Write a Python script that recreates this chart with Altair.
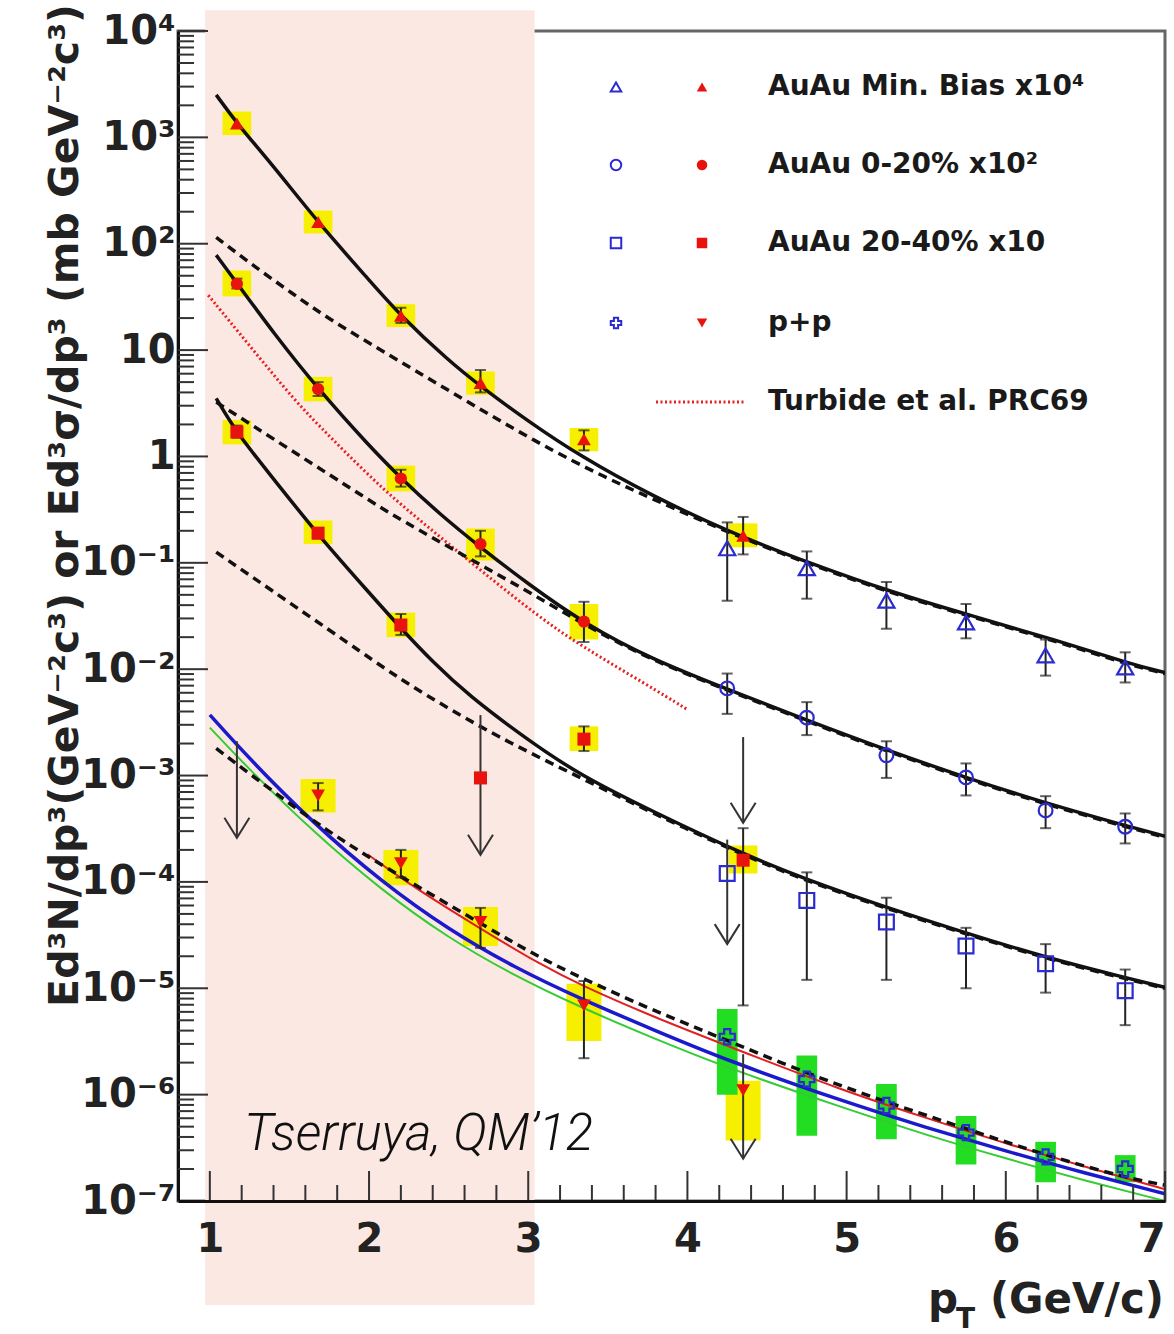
import altair as alt
import pandas as pd

# ---------------- values ----------------
# AuAu Min. Bias x10^4 : virtual-photon (red) and conversion (blue) points
mb_red_x = [1.17, 1.68, 2.2, 2.7, 3.35, 4.35]
mb_red_y = [1350, 160, 21, 4.9, 1.45, 0.18]
mb_red_sys_lo = [1050, 125, 16.5, 3.8, 1.12, 0.14]
mb_red_sys_hi = [1750, 205, 27, 6.3, 1.85, 0.235]
mb_red_err_x = [2.2, 2.7, 3.35, 4.35]
mb_red_err_lo = [18, 4.0, 1.14, 0.12]
mb_red_err_hi = [25, 6.5, 1.76, 0.27]

high_x = [4.25, 4.75, 5.25, 5.75, 6.25, 6.75]
mb_blue_y = [0.137, 0.089, 0.044, 0.0275, 0.0135, 0.0104]
mb_blue_lo = [0.044, 0.046, 0.024, 0.0195, 0.0087, 0.0075]
mb_blue_hi = [0.24, 0.128, 0.066, 0.041, 0.019, 0.0144]

# AuAu 0-20% x10^2
c0_red_x = [1.17, 1.68, 2.2, 2.7, 3.35]
c0_red_y = [42, 4.3, 0.62, 0.15, 0.028]
c0_red_err_lo = [38, 3.7, 0.52, 0.115, 0.018]
c0_red_err_hi = [47, 5.0, 0.75, 0.2, 0.043]
c0_red_sys_lo = [32, 3.3, 0.47, 0.105, 0.019]
c0_red_sys_hi = [56, 5.6, 0.82, 0.21, 0.041]
c0_blue_y = [0.0066, 0.0035, 0.00155, 0.00096, 0.00047, 0.00033]
c0_blue_lo = [0.0038, 0.0024, 0.00095, 0.00065, 0.00032, 0.00023]
c0_blue_hi = [0.0091, 0.0049, 0.0021, 0.0013, 0.00064, 0.00044]

# AuAu 20-40% x10
c2_red_x = [1.17, 1.68, 2.2, 2.7, 3.35, 4.35]
c2_red_y = [1.7, 0.19, 0.026, 0.00095, 0.0022, 0.00016]
c2_red_err_x = [1.17, 1.68, 2.2, 3.35, 4.35]
c2_red_err_lo = [1.5, 0.17, 0.021, 0.0017, 6.9e-6]
c2_red_err_hi = [1.95, 0.21, 0.033, 0.0029, 3.2e-4]
c2_red_sys_x = [1.17, 1.68, 2.2, 3.35, 4.35]
c2_red_sys_lo = [1.3, 0.15, 0.02, 0.0017, 0.00012]
c2_red_sys_hi = [2.2, 0.25, 0.034, 0.0029, 0.00022]
c2_blue_y = [0.00012, 6.7e-5, 4.2e-5, 2.5e-5, 1.7e-5, 9.5e-6]
c2_blue_err_x = [4.75, 5.25, 5.75, 6.25, 6.75]
c2_blue_lo = [1.2e-5, 1.2e-5, 1.0e-5, 9.1e-6, 4.5e-6]
c2_blue_hi = [1.23e-4, 7.1e-5, 3.7e-5, 2.6e-5, 1.5e-5]

# p+p
pp_red_x = [1.68, 2.2, 2.7, 3.35, 4.35]
pp_red_y = [0.00065, 0.00015, 4.2e-5, 6.9e-6, 1.1e-6]
pp_red_err_x = [1.68, 2.2, 2.7, 3.35]
pp_red_err_lo = [4.7e-4, 1.1e-4, 2.4e-5, 2.2e-6]
pp_red_err_hi = [8.5e-4, 2.0e-4, 5.7e-5, 1.17e-5]
pp_red_sys_lo = [4.5e-4, 9.3e-5, 2.5e-5, 3.2e-6, 3.7e-7]
pp_red_sys_hi = [9.3e-4, 2.0e-4, 5.8e-5, 1.1e-5, 1.35e-6]
pp_blue_y = [3.5e-6, 1.4e-6, 7.9e-7, 4.4e-7, 2.6e-7, 2.0e-7]
pp_blue_sys_lo = [1.0e-6, 4.1e-7, 3.8e-7, 2.2e-7, 1.5e-7, 1.5e-7]
pp_blue_sys_hi = [6.4e-6, 2.33e-6, 1.26e-6, 6.3e-7, 3.6e-7, 2.7e-7]

# upper limits (arrows)
arrow_x = [1.17, 2.7, 4.35, 4.25, 4.35]
arrow_top = [0.0021, 0.0037, 0.0023, 0.00025, 2.4e-6]
arrow_tip = [2.6e-4, 1.8e-4, 3.6e-4, 2.6e-5, 2.5e-7]

# curves
mb_fit_x = [1.04, 1.17, 1.4, 1.68, 2.0, 2.2, 2.5, 2.7, 3.0, 3.33, 3.77, 4.26, 4.77, 5.28, 5.79, 6.3, 6.8, 7.0]
mb_fit_y = [2510, 1350, 537, 158, 45.7, 20.9, 7.94, 4.57, 2.14, 1.0, 0.432, 0.195, 0.0989, 0.0531, 0.0316, 0.0191, 0.011, 0.0093]
mb_pp_x = [1.04, 1.25, 1.5, 1.75, 2.075, 2.5, 3.06, 3.5, 3.77, 4.26, 4.77, 5.28, 5.79, 6.3, 6.8, 7.0]
mb_pp_y = [115, 66.1, 35.5, 19.5, 10.0, 4.17, 1.33, 0.617, 0.407, 0.191, 0.0966, 0.0519, 0.0309, 0.0186, 0.0107, 0.00912]

c0_fit_x = [1.04, 1.17, 1.4, 1.68, 2.0, 2.2, 2.45, 2.7, 3.0, 3.35, 3.77, 4.26, 4.75, 5.25, 5.75, 6.25, 6.75, 7.0]
c0_fit_y = [78.2, 42.7, 14.5, 4.29, 1.26, 0.624, 0.282, 0.14, 0.0631, 0.027, 0.0125, 0.0064, 0.00331, 0.00174, 0.000955, 0.00055, 0.000339, 0.000269]
c0_pp_x = [1.04, 1.5, 2.0, 2.13, 2.5, 3.0, 3.35, 3.77, 4.26, 4.75, 5.25, 5.75, 6.25, 6.75, 7.0]
c0_pp_y = [3.24, 1.17, 0.389, 0.292, 0.141, 0.0537, 0.0263, 0.0122, 0.00628, 0.00324, 0.0017, 0.000933, 0.000537, 0.000331, 0.000263]

c2_fit_x = [1.04, 1.17, 1.4, 1.68, 2.0, 2.2, 2.4, 2.62, 3.0, 3.33, 3.77, 4.35, 4.75, 5.25, 5.75, 6.25, 6.75, 7.0]
c2_fit_y = [3.52, 1.65, 0.617, 0.182, 0.0525, 0.0242, 0.0117, 0.00575, 0.00214, 0.001, 0.000468, 0.000182, 0.000105, 5.75e-5, 3.31e-5, 1.95e-5, 1.26e-5, 1.02e-5]
c2_pp_x = [1.04, 1.5, 2.0, 2.18, 2.41, 2.8, 3.3, 3.77, 4.35, 4.75, 5.25, 5.75, 6.25, 6.75, 7.0]
c2_pp_y = [0.126, 0.0422, 0.0129, 0.00838, 0.00513, 0.00234, 0.001, 0.000452, 0.000178, 0.000102, 5.62e-5, 3.24e-5, 1.91e-5, 1.23e-5, 1.0e-5]

pp_fit_x = [1.04, 1.45, 1.74, 1.99, 2.28, 2.7, 3.08, 3.33, 3.77, 4.25, 4.75, 5.25, 5.75, 6.25, 6.75, 7.0]
pp_fit_y = [1.8e-3, 6.17e-4, 3.02e-4, 1.74e-4, 9.55e-5, 4.07e-5, 1.91e-5, 1.26e-5, 6.31e-6, 3.24e-6, 1.58e-6, 8.51e-7, 4.79e-7, 2.69e-7, 1.66e-7, 1.41e-7]
pp_red_line_x = [1.99, 2.28, 2.7, 3.08, 3.33, 3.77, 4.25, 4.97, 5.5, 6.0, 6.5, 7.0]
pp_red_line_y = [1.82e-4, 8.91e-5, 3.63e-5, 1.66e-5, 1.07e-5, 5.5e-6, 2.88e-6, 1.1e-6, 6.03e-7, 3.47e-7, 2.09e-7, 1.29e-7]
pqcd_x = [1.0, 1.24, 1.65, 2.08, 2.5, 2.91, 3.33, 3.77, 4.25, 4.97, 5.5, 6.0, 6.5, 7.0]
pqcd_blue_y = [3.72e-3, 1.48e-3, 3.55e-4, 1.0e-4, 3.55e-5, 1.58e-5, 7.94e-6, 4.17e-6, 2.09e-6, 8.71e-7, 4.9e-7, 2.95e-7, 1.82e-7, 1.17e-7]
pqcd_green_y = [2.82e-3, 1.17e-3, 2.95e-4, 8.32e-5, 2.95e-5, 1.32e-5, 6.61e-6, 3.47e-6, 1.78e-6, 7.59e-7, 4.17e-7, 2.51e-7, 1.55e-7, 1.0e-7]

turbide_x = [0.99, 1.25, 1.53, 1.75, 2.1, 2.4, 2.7, 3.06, 3.33, 3.75, 4.0]
turbide_y = [32.8, 11.0, 3.39, 1.55, 0.468, 0.2, 0.0851, 0.0316, 0.0166, 0.00708, 0.00417]

# shaded low-pT band
band_x = [0.97, 3.04]
band_y = [1.57e4, 1.05e-8]

# axes
x_tick_values = [1, 2, 3, 4, 5, 6, 7]
x_minor_values = [1.2, 1.4, 1.6, 1.8, 2.2, 2.4, 2.6, 2.8, 3.2, 3.4, 3.6, 3.8,
                  4.2, 4.4, 4.6, 4.8, 5.2, 5.4, 5.6, 5.8, 6.2, 6.4, 6.6, 6.8]
y_exponents = [-7, -6, -5, -4, -3, -2, -1, 0, 1, 2, 3, 4]
y_tick_values = [10.0 ** e for e in y_exponents]
y_tick_labels = ["10⁻⁷", "10⁻⁶", "10⁻⁵", "10⁻⁴", "10⁻³", "10⁻²", "10⁻¹", "1", "10", "10²", "10³", "10⁴"]
y_minor_values = [k * 10.0 ** e for e in range(-7, 4) for k in range(2, 10)]

legend_labels = ["AuAu Min. Bias x10⁴", "AuAu 0-20% x10²", "AuAu 20-40% x10", "p+p", "Turbide et al. PRC69"]
y_title = "Ed³N/dp³(GeV⁻²c³) or Ed³σ/dp³ (mb GeV⁻²c³)"
annotation = "Tserruya, QM’12"

# ---------------- chart ----------------
W, H = 987, 1170
FONT = "DejaVu Sans"
BLUE = "#2b2bd0"
RED = "#e8120f"
YELLOW = "#f6ef00"
GREEN = "#22dd22"
PINK = "#fce8e2"

xs = alt.Scale(domain=[0.8, 7.0], nice=False, zero=False)
ys = alt.Scale(type="log", domain=[1e-7, 1e4], nice=False)

label_expr = " : ".join(
    f"round(log(datum.value) / LN10) == {e} ? '{lab}'" for e, lab in zip(y_exponents, y_tick_labels)
) + " : ''"

ax_x = alt.Axis(values=x_tick_values, format="d", labelFont=FONT, labelFontWeight="bold",
                labelFontSize=40, labelColor="#222", labelPadding=18, ticks=False,
                domain=True, domainColor="#111", domainWidth=3, grid=False, title=None, zindex=1)
ax_y = alt.Axis(values=y_tick_values, labelExpr=label_expr, labelFont=FONT, labelFontWeight="bold",
                labelFontSize=40, labelColor="#222", labelPadding=3, ticks=False,
                domain=True, domainColor="#111", domainWidth=3, grid=False,
                title=y_title, titleFont=FONT, titleFontWeight="bold", titleFontSize=41,
                titleColor="#222", titleAngle=270, titleX=-113, titleY=474,
                titleAlign="center", titleBaseline="middle")


def X(f):
    return alt.X(f"{f}:Q", scale=xs, axis=ax_x)


def Y(f):
    return alt.Y(f"{f}:Q", scale=ys, axis=ax_y)


layers = []

# pink band (drawn beneath everything, extends beyond the frame)
band = pd.DataFrame({"x": [band_x[0]], "x2": [band_x[1]], "y": [band_y[0]], "y2": [band_y[1]]})
layers.append(alt.Chart(band).mark_rect(color=PINK, clip=False).encode(
    x=X("x"), x2="x2", y=Y("y"), y2="y2"))


# systematic boxes
def boxes(xv, lo, hi, color, hw):
    df = pd.DataFrame({"x": xv, "lo": lo, "hi": hi})
    return alt.Chart(df).transform_calculate(
        xa=f"datum.x - {hw}", xb=f"datum.x + {hw}"
    ).mark_rect(color=color).encode(x=X("xa"), x2="xb", y=Y("lo"), y2="hi")


layers += [
    boxes(mb_red_x, mb_red_sys_lo, mb_red_sys_hi, YELLOW, 0.09),
    boxes(c0_red_x, c0_red_sys_lo, c0_red_sys_hi, YELLOW, 0.09),
    boxes(c2_red_sys_x, c2_red_sys_lo, c2_red_sys_hi, YELLOW, 0.09),
    boxes(pp_red_x, pp_red_sys_lo, pp_red_sys_hi, YELLOW, 0.11),
    boxes(high_x, pp_blue_sys_lo, pp_blue_sys_hi, GREEN, 0.065),
]


# curves
def curve(xv, yv, color, width, dash=None):
    df = pd.DataFrame({"x": xv, "y": yv})
    kw = dict(color=color, strokeWidth=width, clip=True, interpolate="basis")
    if dash:
        kw["strokeDash"] = dash
    return alt.Chart(df).mark_line(**kw).encode(x=X("x"), y=Y("y"))


layers += [
    curve(pqcd_x, pqcd_green_y, "#33cc33", 2),
    curve(pqcd_x, pqcd_blue_y, "#1a1acc", 3.5),
    curve(pp_red_line_x, pp_red_line_y, "#e02020", 2),
    curve(turbide_x, turbide_y, "#e82020", 3, [2, 2.5]),
    curve(mb_pp_x, mb_pp_y, "#111", 3.5, [9, 6]),
    curve(c0_pp_x, c0_pp_y, "#111", 3.5, [9, 6]),
    curve(c2_pp_x, c2_pp_y, "#111", 3.5, [9, 6]),
    curve(pp_fit_x, pp_fit_y, "#111", 3.5, [9, 6]),
    curve(mb_fit_x, mb_fit_y, "#111", 3.5),
    curve(c0_fit_x, c0_fit_y, "#111", 3.5),
    curve(c2_fit_x, c2_fit_y, "#111", 3.5),
]


# error bars with caps
def errbars(xv, lo, hi):
    df = pd.DataFrame({"x": xv, "lo": lo, "hi": hi})
    base = alt.Chart(df)
    bar = base.mark_rule(color="#222", strokeWidth=2).encode(x=X("x"), y=Y("lo"), y2="hi")
    caps = base.transform_fold(["lo", "hi"], as_=["end", "v"]).mark_tick(
        orient="horizontal", size=11, thickness=2, color="#222").encode(x=X("x"), y=Y("v"))
    return [bar, caps]


layers += errbars(mb_red_err_x, mb_red_err_lo, mb_red_err_hi)
layers += errbars(high_x, mb_blue_lo, mb_blue_hi)
layers += errbars(c0_red_x, c0_red_err_lo, c0_red_err_hi)
layers += errbars(high_x, c0_blue_lo, c0_blue_hi)
layers += errbars(c2_red_err_x, c2_red_err_lo, c2_red_err_hi)
layers += errbars(c2_blue_err_x, c2_blue_lo, c2_blue_hi)
layers += errbars(pp_red_err_x, pp_red_err_lo, pp_red_err_hi)

# upper-limit arrows
arr = pd.DataFrame({"x": arrow_x, "top": arrow_top, "tip": arrow_tip})
layers.append(alt.Chart(arr).mark_rule(color="#333", strokeWidth=2).encode(
    x=X("x"), y=Y("top"), y2="tip"))
layers.append(alt.Chart(arr).mark_point(
    shape="M -1 -1.6 L 0 0 L 1 -1.6", filled=False, stroke="#333", strokeWidth=2,
    size=625, opacity=1).encode(x=X("x"), y=Y("tip")))


# markers
def markers(xv, yv, shape, filled, size):
    df = pd.DataFrame({"x": xv, "y": yv})
    if filled:
        m = alt.Chart(df).mark_point(shape=shape, filled=True, color=RED, size=size, opacity=1)
    else:
        m = alt.Chart(df).mark_point(shape=shape, filled=False, stroke=BLUE, strokeWidth=2.2,
                                     size=size, opacity=1)
    return m.encode(x=X("x"), y=Y("y"))


layers += [
    markers(high_x, mb_blue_y, "triangle-up", False, 260),
    markers(high_x, c0_blue_y, "circle", False, 190),
    markers(high_x, c2_blue_y, "square", False, 220),
    markers(high_x, pp_blue_y, "cross", False, 230),
    markers(mb_red_x, mb_red_y, "triangle-up", True, 190),
    markers(c0_red_x, c0_red_y, "circle", True, 150),
    markers(c2_red_x, c2_red_y, "square", True, 170),
    markers(pp_red_x, pp_red_y, "triangle-down", True, 190),
]


# inward axis ticks
def tick_df(v):
    return pd.DataFrame({"t": v})


layers.append(alt.Chart(tick_df(x_tick_values)).mark_rule(color="#333", strokeWidth=2).encode(
    x=X("t"), y=alt.value(H), y2=alt.value(H - 30)))
layers.append(alt.Chart(tick_df(x_minor_values)).mark_rule(color="#333", strokeWidth=2).encode(
    x=X("t"), y=alt.value(H), y2=alt.value(H - 16)))
layers.append(alt.Chart(tick_df(y_tick_values)).mark_rule(color="#333", strokeWidth=2).encode(
    y=Y("t"), x=alt.value(0), x2=alt.value(30)))
layers.append(alt.Chart(tick_df(y_minor_values)).mark_rule(color="#333", strokeWidth=2).encode(
    y=Y("t"), x=alt.value(0), x2=alt.value(16)))

# legend
row_y = [56, 134, 212, 292, 371]
leg_shapes_blue = ["triangle-up", "circle", "square", "cross"]
leg_shapes_red = ["triangle-up", "circle", "square", "triangle-down"]
one = pd.DataFrame({"k": [0]})
for i in range(4):
    layers.append(alt.Chart(one).mark_point(shape=leg_shapes_blue[i], filled=False, stroke=BLUE,
                                            strokeWidth=2, size=110, opacity=1).encode(
        x=alt.value(438), y=alt.value(row_y[i])))
    layers.append(alt.Chart(one).mark_point(shape=leg_shapes_red[i], filled=True, color=RED,
                                            size=110, opacity=1).encode(
        x=alt.value(524), y=alt.value(row_y[i])))
layers.append(alt.Chart(one).mark_rule(color="#e82020", strokeWidth=3, strokeDash=[2, 2.5]).encode(
    x=alt.value(478), x2=alt.value(567), y=alt.value(row_y[4])))
for i, lab in enumerate(legend_labels):
    layers.append(alt.Chart(pd.DataFrame({"t": [lab]})).mark_text(
        font=FONT, fontWeight="bold", fontSize=28, color="#1a1a1a", align="left",
        baseline="middle").encode(x=alt.value(590), y=alt.value(row_y[i]), text="t:N"))

# annotation
layers.append(alt.Chart(pd.DataFrame({"t": [annotation]})).mark_text(
    font="Roboto", fontWeight=300, fontStyle="italic", fontSize=51, color="#111",
    align="left", baseline="middle").encode(x=alt.value(66), y=alt.value(1104), text="t:N"))

# x-axis title  p_T (GeV/c)
layers.append(alt.Chart(pd.DataFrame({"t": ["(GeV/c)"]})).mark_text(
    font=FONT, fontWeight="bold", fontSize=42, color="#222", align="right",
    baseline="alphabetic").encode(x=alt.value(986), y=alt.value(1282), text="t:N"))
layers.append(alt.Chart(pd.DataFrame({"t": ["T"]})).mark_text(
    font=FONT, fontWeight="bold", fontSize=28, color="#222", align="right",
    baseline="alphabetic").encode(x=alt.value(797), y=alt.value(1297), text="t:N"))
layers.append(alt.Chart(pd.DataFrame({"t": ["p"]})).mark_text(
    font=FONT, fontWeight="bold", fontSize=42, color="#222", align="right",
    baseline="alphabetic").encode(x=alt.value(780), y=alt.value(1282), text="t:N"))

chart = alt.layer(*layers).properties(
    width=W, height=H,
    padding={"left": 178, "top": 31, "right": 9, "bottom": 133},
    autosize=alt.AutoSizeParams(type="none"),
    background="white",
).configure_view(stroke="#666", strokeWidth=3)

chart.save("out.html", embed_options={"renderer": "svg", "actions": False})
